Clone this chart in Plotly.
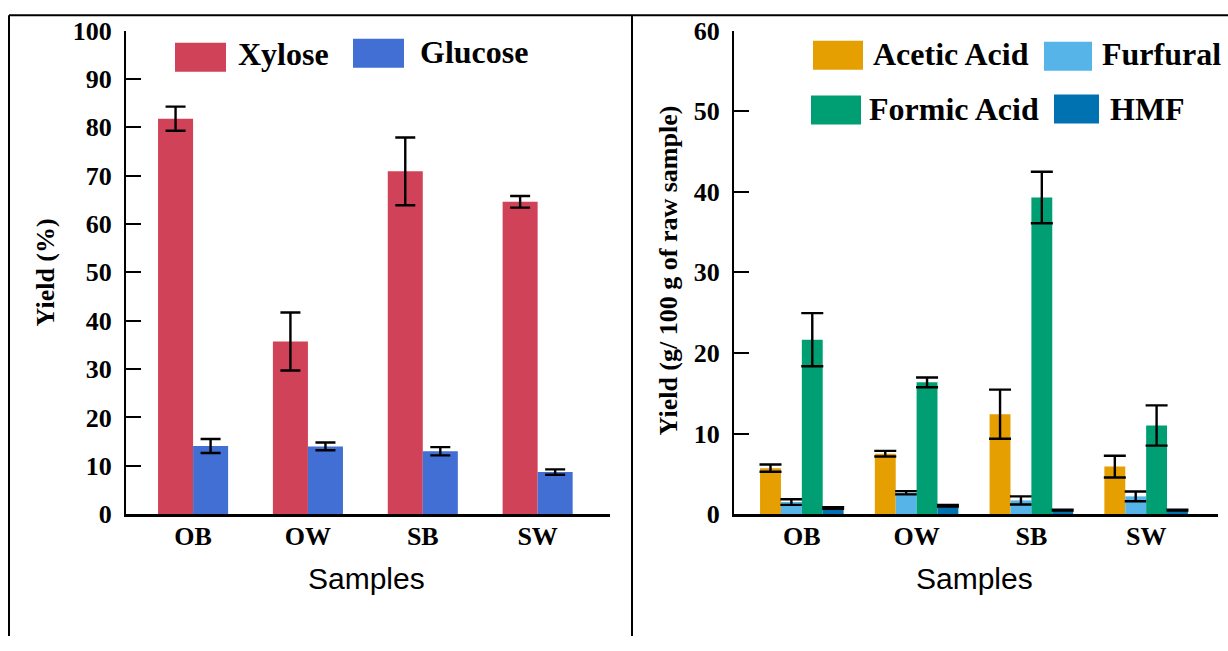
import plotly.graph_objects as go

W, H = 1228, 651

samples = ["OB", "OW", "SB", "SW"]

xylose = [81.8, 35.7, 70.9, 64.6]
xylose_err = [2.5, 6.0, 7.0, 1.2]
glucose = [14.1, 14.0, 13.0, 8.7]
glucose_err = [1.45, 0.8, 0.85, 0.55]

acetic = [5.7, 7.5, 12.4, 5.9]
acetic_err = [0.45, 0.35, 3.05, 1.35]
furfural = [1.5, 2.65, 1.7, 2.2]
furfural_err = [0.35, 0.2, 0.5, 0.6]
formic = [21.65, 16.35, 39.3, 11.0]
formic_err = [3.3, 0.6, 3.2, 2.5]
hmf = [0.75, 1.05, 0.5, 0.5]
hmf_err = [0.1, 0.1, 0.05, 0.05]

left_ticks = [0, 10, 20, 30, 40, 50, 60, 70, 80, 90, 100]
right_ticks = [0, 10, 20, 30, 40, 50, 60]

C_XYL = "#D04258"
C_GLU = "#416FD4"
C_ACE = "#E69F00"
C_FUR = "#56B4E9"
C_FOR = "#009E73"
C_HMF = "#0072B2"

SERIF = "Liberation Serif"
SANS = "Liberation Sans"

# vertical placement as observed in the photographed page
Y_OFF, Y_SCALE = 14.3, 0.9566


def px(x):
    return x / W


def py(y):
    yd = (y - Y_OFF) / Y_SCALE
    return 1 - yd / H


fig = go.Figure()

wl = 0.305
left_series = [("Xylose", xylose, xylose_err, C_XYL, -wl),
               ("Glucose", glucose, glucose_err, C_GLU, 0.0)]
for name, vals, errs, col, off in left_series:
    fig.add_trace(go.Bar(
        x=samples, y=vals, name=name, marker=dict(color=col, line=dict(width=0)),
        width=wl, offset=off, xaxis="x", yaxis="y", showlegend=False,
        error_y=dict(type="data", array=errs, visible=True, color="black",
                     thickness=2.4, width=10),
    ))

wr = 0.182
right_series = [("Acetic Acid", acetic, acetic_err, C_ACE, -2 * wr),
                ("Furfural", furfural, furfural_err, C_FUR, -wr),
                ("Formic Acid", formic, formic_err, C_FOR, 0.0),
                ("HMF", hmf, hmf_err, C_HMF, wr)]
for name, vals, errs, col, off in right_series:
    fig.add_trace(go.Bar(
        x=samples, y=vals, name=name, marker=dict(color=col, line=dict(width=0)),
        width=wr, offset=off, xaxis="x2", yaxis="y2", showlegend=False,
        error_y=dict(type="data", array=errs, visible=True, color="black",
                     thickness=2.4, width=11),
    ))

tickfont = dict(family=SERIF, size=26, color="black", weight="bold")

yd = [py(515), py(31)]

common_x = dict(showline=True, linewidth=2.5, linecolor="black", ticks="",
                showgrid=False, zeroline=False, tickfont=tickfont,
                ticklabelstandoff=-3, fixedrange=True)
common_y = dict(showline=True, linewidth=2, linecolor="black", ticks="inside",
                ticklen=15, tickwidth=2, tickcolor="black", showgrid=False,
                zeroline=False, tickfont=tickfont, ticklabelstandoff=7,
                fixedrange=True)

fig.update_layout(
    width=W, height=H,
    margin=dict(l=0, r=0, t=0, b=0),
    paper_bgcolor="white", plot_bgcolor="white",
    barmode="overlay",
    showlegend=False,
    xaxis=dict(domain=[px(126), px(610)], range=[-0.584, 3.63], anchor="y",
               type="category", **common_x),
    yaxis=dict(domain=yd, range=[0, 100], tickvals=left_ticks, anchor="x", **common_y),
    xaxis2=dict(domain=[px(734), px(1218)], range=[-0.591, 3.626], anchor="y2",
                type="category", **common_x),
    yaxis2=dict(domain=yd, range=[0, 60], tickvals=right_ticks, anchor="x2", **common_y),
)

shapes = []
top = min(py(10), 1 - 1.2 / H)
# frame
shapes.append(dict(type="line", xref="paper", yref="paper", x0=px(9), x1=1, y0=top, y1=top,
                   line=dict(color="black", width=2)))
shapes.append(dict(type="line", xref="paper", yref="paper", x0=px(9), x1=px(9), y0=0, y1=top,
                   line=dict(color="black", width=2)))
shapes.append(dict(type="line", xref="paper", yref="paper", x0=px(632), x1=px(632), y0=0, y1=top,
                   line=dict(color="black", width=2)))

annotations = []
legend_items = [
    # name, color, rect x0,x1,y0,y1 (px), text x, text baseline
    ("Xylose", C_XYL, 175, 226, 43, 72, 237, 65),
    ("Glucose", C_GLU, 353, 404, 39, 68, 419, 62.7),
    ("Acetic Acid", C_ACE, 813, 863, 41, 70, 872, 65),
    ("Furfural", C_FUR, 1044, 1092, 42, 71, 1101, 65),
    ("Formic Acid", C_FOR, 811, 861, 96, 125, 868, 120.7),
    ("HMF", C_HMF, 1054, 1099, 95, 124, 1109, 120.7),
]
for name, col, x0, x1, y0, y1, tx, base in legend_items:
    shapes.append(dict(type="rect", xref="paper", yref="paper", x0=px(x0), x1=px(x1),
                       y0=py(y1), y1=py(y0), fillcolor=col, line=dict(width=0)))
    annotations.append(dict(text=name, xref="paper", yref="paper", x=px(tx - 1), y=py(base - 10.8),
                            xanchor="left", yanchor="middle", showarrow=False,
                            font=dict(family=SERIF, size=32, color="black", weight="bold")))

# axis titles
annotations.append(dict(text="Yield (%)", xref="paper", yref="paper", x=px(45), y=py(273),
                        textangle=-90, xanchor="center", yanchor="middle", showarrow=False,
                        font=dict(family=SERIF, size=26, color="black", weight="bold")))
annotations.append(dict(text="Yield (g/ 100 g of raw sample)", xref="paper", yref="paper",
                        x=px(668), y=py(271), textangle=-90, xanchor="center", yanchor="middle",
                        showarrow=False,
                        font=dict(family=SERIF, size=26, color="black", weight="bold")))
for cx in [366, 974]:
    annotations.append(dict(text="Samples", xref="paper", yref="paper", x=px(cx), y=py(579),
                            xanchor="center", yanchor="middle", showarrow=False,
                            font=dict(family=SANS, size=30, color="black")))

fig.update_layout(shapes=shapes, annotations=annotations)

fig.write_html(
    "out.html",
    config={"displayModeBar": False},
    post_script="document.body.style.margin='0';document.body.style.padding='0';"
                "document.documentElement.style.overflow='hidden';",
)
